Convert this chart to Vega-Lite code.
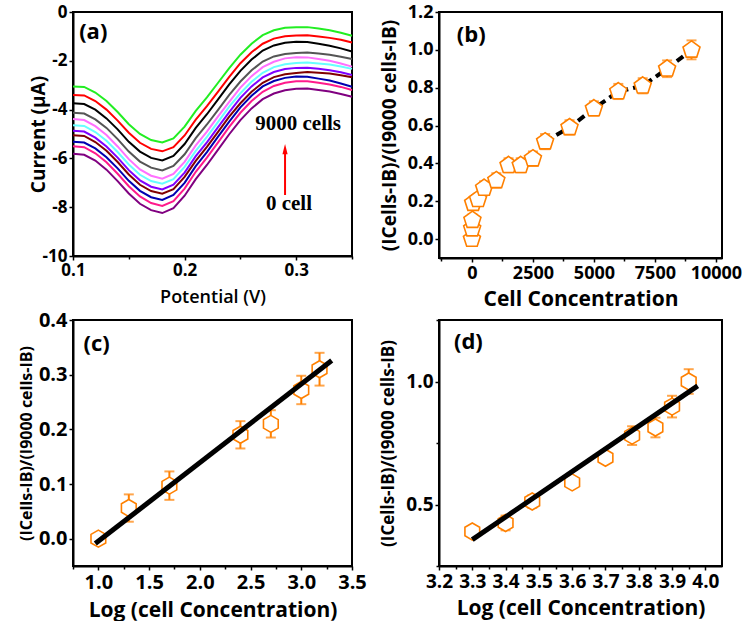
{
"$schema": "https://vega.github.io/schema/vega-lite/v6.json",
"background": "white",
"padding": {"left": 17, "top": 2, "right": 0, "bottom": 0},
"bounds": "flush",
"columns": 2,
"spacing": {"row": 62, "column": 87},
"config": {
  "font": "Open Sans",
  "view": {"stroke": "black", "strokeWidth": 2},
  "axis": {"grid": false, "domainColor": "black", "domainWidth": 2, "tickColor": "black", "tickWidth": 1.5, "labelFont": "Open Sans", "labelFontWeight": "bold", "labelColor": "black", "titleFont": "Open Sans", "titleFontWeight": "bold", "titleColor": "black", "labelPadding": 2, "labelFlush": false, "labelOverlap": false, "labelBound": false}
},
"datasets": {
"dpv": [
{"s":"c01","x":0.1,"y":-3.05},{"s":"c01","x":0.11,"y":-3.07},{"s":"c01","x":0.12,"y":-3.3},{"s":"c01","x":0.13,"y":-3.65},{"s":"c01","x":0.14,"y":-4.1},{"s":"c01","x":0.15,"y":-4.6},{"s":"c01","x":0.16,"y":-5.0},{"s":"c01","x":0.17,"y":-5.25},{"s":"c01","x":0.18,"y":-5.35},{"s":"c01","x":0.19,"y":-5.18},{"s":"c01","x":0.2,"y":-4.7},{"s":"c01","x":0.21,"y":-4.05},{"s":"c01","x":0.22,"y":-3.5},{"s":"c01","x":0.23,"y":-2.9},{"s":"c01","x":0.24,"y":-2.3},{"s":"c01","x":0.25,"y":-1.75},{"s":"c01","x":0.26,"y":-1.3},{"s":"c01","x":0.27,"y":-0.95},{"s":"c01","x":0.28,"y":-0.75},{"s":"c01","x":0.29,"y":-0.65},{"s":"c01","x":0.3,"y":-0.62},{"s":"c01","x":0.31,"y":-0.62},{"s":"c01","x":0.32,"y":-0.68},{"s":"c01","x":0.33,"y":-0.75},{"s":"c01","x":0.34,"y":-0.85},{"s":"c01","x":0.35,"y":-0.97},
{"s":"c02","x":0.1,"y":-3.4},{"s":"c02","x":0.11,"y":-3.42},{"s":"c02","x":0.12,"y":-3.65},{"s":"c02","x":0.13,"y":-4.0},{"s":"c02","x":0.14,"y":-4.45},{"s":"c02","x":0.15,"y":-4.95},{"s":"c02","x":0.16,"y":-5.36},{"s":"c02","x":0.17,"y":-5.61},{"s":"c02","x":0.18,"y":-5.71},{"s":"c02","x":0.19,"y":-5.54},{"s":"c02","x":0.2,"y":-5.06},{"s":"c02","x":0.21,"y":-4.41},{"s":"c02","x":0.22,"y":-3.86},{"s":"c02","x":0.23,"y":-3.26},{"s":"c02","x":0.24,"y":-2.66},{"s":"c02","x":0.25,"y":-2.1},{"s":"c02","x":0.26,"y":-1.65},{"s":"c02","x":0.27,"y":-1.3},{"s":"c02","x":0.28,"y":-1.09},{"s":"c02","x":0.29,"y":-0.99},{"s":"c02","x":0.3,"y":-0.96},{"s":"c02","x":0.31,"y":-0.95},{"s":"c02","x":0.32,"y":-1.0},{"s":"c02","x":0.33,"y":-1.06},{"s":"c02","x":0.34,"y":-1.14},{"s":"c02","x":0.35,"y":-1.25},
{"s":"c03","x":0.1,"y":-3.74},{"s":"c03","x":0.11,"y":-3.77},{"s":"c03","x":0.12,"y":-4.0},{"s":"c03","x":0.13,"y":-4.36},{"s":"c03","x":0.14,"y":-4.81},{"s":"c03","x":0.15,"y":-5.32},{"s":"c03","x":0.16,"y":-5.72},{"s":"c03","x":0.17,"y":-5.98},{"s":"c03","x":0.18,"y":-6.08},{"s":"c03","x":0.19,"y":-5.9},{"s":"c03","x":0.2,"y":-5.41},{"s":"c03","x":0.21,"y":-4.75},{"s":"c03","x":0.22,"y":-4.19},{"s":"c03","x":0.23,"y":-3.58},{"s":"c03","x":0.24,"y":-2.97},{"s":"c03","x":0.25,"y":-2.41},{"s":"c03","x":0.26,"y":-1.95},{"s":"c03","x":0.27,"y":-1.58},{"s":"c03","x":0.28,"y":-1.37},{"s":"c03","x":0.29,"y":-1.26},{"s":"c03","x":0.3,"y":-1.22},{"s":"c03","x":0.31,"y":-1.23},{"s":"c03","x":0.32,"y":-1.3},{"s":"c03","x":0.33,"y":-1.38},{"s":"c03","x":0.34,"y":-1.49},{"s":"c03","x":0.35,"y":-1.62},
{"s":"c04","x":0.1,"y":-4.13},{"s":"c04","x":0.11,"y":-4.16},{"s":"c04","x":0.12,"y":-4.4},{"s":"c04","x":0.13,"y":-4.75},{"s":"c04","x":0.14,"y":-5.21},{"s":"c04","x":0.15,"y":-5.72},{"s":"c04","x":0.16,"y":-6.13},{"s":"c04","x":0.17,"y":-6.38},{"s":"c04","x":0.18,"y":-6.49},{"s":"c04","x":0.19,"y":-6.31},{"s":"c04","x":0.2,"y":-5.83},{"s":"c04","x":0.21,"y":-5.17},{"s":"c04","x":0.22,"y":-4.61},{"s":"c04","x":0.23,"y":-4.01},{"s":"c04","x":0.24,"y":-3.4},{"s":"c04","x":0.25,"y":-2.85},{"s":"c04","x":0.26,"y":-2.39},{"s":"c04","x":0.27,"y":-2.03},{"s":"c04","x":0.28,"y":-1.82},{"s":"c04","x":0.29,"y":-1.72},{"s":"c04","x":0.3,"y":-1.68},{"s":"c04","x":0.31,"y":-1.66},{"s":"c04","x":0.32,"y":-1.7},{"s":"c04","x":0.33,"y":-1.75},{"s":"c04","x":0.34,"y":-1.83},{"s":"c04","x":0.35,"y":-1.93},
{"s":"c05","x":0.1,"y":-4.39},{"s":"c05","x":0.11,"y":-4.43},{"s":"c05","x":0.12,"y":-4.68},{"s":"c05","x":0.13,"y":-5.04},{"s":"c05","x":0.14,"y":-5.51},{"s":"c05","x":0.15,"y":-6.03},{"s":"c05","x":0.16,"y":-6.45},{"s":"c05","x":0.17,"y":-6.71},{"s":"c05","x":0.18,"y":-6.83},{"s":"c05","x":0.19,"y":-6.64},{"s":"c05","x":0.2,"y":-6.14},{"s":"c05","x":0.21,"y":-5.47},{"s":"c05","x":0.22,"y":-4.9},{"s":"c05","x":0.23,"y":-4.28},{"s":"c05","x":0.24,"y":-3.68},{"s":"c05","x":0.25,"y":-3.1},{"s":"c05","x":0.26,"y":-2.63},{"s":"c05","x":0.27,"y":-2.26},{"s":"c05","x":0.28,"y":-2.04},{"s":"c05","x":0.29,"y":-1.9},{"s":"c05","x":0.3,"y":-1.85},{"s":"c05","x":0.31,"y":-1.86},{"s":"c05","x":0.32,"y":-1.93},{"s":"c05","x":0.33,"y":-2.0},{"s":"c05","x":0.34,"y":-2.11},{"s":"c05","x":0.35,"y":-2.24},
{"s":"c06","x":0.1,"y":-4.64},{"s":"c06","x":0.11,"y":-4.67},{"s":"c06","x":0.12,"y":-4.92},{"s":"c06","x":0.13,"y":-5.28},{"s":"c06","x":0.14,"y":-5.74},{"s":"c06","x":0.15,"y":-6.25},{"s":"c06","x":0.16,"y":-6.67},{"s":"c06","x":0.17,"y":-6.93},{"s":"c06","x":0.18,"y":-7.04},{"s":"c06","x":0.19,"y":-6.85},{"s":"c06","x":0.2,"y":-6.35},{"s":"c06","x":0.21,"y":-5.69},{"s":"c06","x":0.22,"y":-5.12},{"s":"c06","x":0.23,"y":-4.5},{"s":"c06","x":0.24,"y":-3.88},{"s":"c06","x":0.25,"y":-3.33},{"s":"c06","x":0.26,"y":-2.86},{"s":"c06","x":0.27,"y":-2.49},{"s":"c06","x":0.28,"y":-2.26},{"s":"c06","x":0.29,"y":-2.14},{"s":"c06","x":0.3,"y":-2.09},{"s":"c06","x":0.31,"y":-2.07},{"s":"c06","x":0.32,"y":-2.11},{"s":"c06","x":0.33,"y":-2.15},{"s":"c06","x":0.34,"y":-2.23},{"s":"c06","x":0.35,"y":-2.33},
{"s":"c07","x":0.1,"y":-4.87},{"s":"c07","x":0.11,"y":-4.9},{"s":"c07","x":0.12,"y":-5.15},{"s":"c07","x":0.13,"y":-5.51},{"s":"c07","x":0.14,"y":-5.97},{"s":"c07","x":0.15,"y":-6.48},{"s":"c07","x":0.16,"y":-6.9},{"s":"c07","x":0.17,"y":-7.16},{"s":"c07","x":0.18,"y":-7.27},{"s":"c07","x":0.19,"y":-7.08},{"s":"c07","x":0.2,"y":-6.58},{"s":"c07","x":0.21,"y":-5.91},{"s":"c07","x":0.22,"y":-5.34},{"s":"c07","x":0.23,"y":-4.72},{"s":"c07","x":0.24,"y":-4.1},{"s":"c07","x":0.25,"y":-3.52},{"s":"c07","x":0.26,"y":-3.05},{"s":"c07","x":0.27,"y":-2.68},{"s":"c07","x":0.28,"y":-2.46},{"s":"c07","x":0.29,"y":-2.34},{"s":"c07","x":0.3,"y":-2.29},{"s":"c07","x":0.31,"y":-2.28},{"s":"c07","x":0.32,"y":-2.33},{"s":"c07","x":0.33,"y":-2.39},{"s":"c07","x":0.34,"y":-2.47},{"s":"c07","x":0.35,"y":-2.58},
{"s":"c08","x":0.1,"y":-5.05},{"s":"c08","x":0.11,"y":-5.08},{"s":"c08","x":0.12,"y":-5.33},{"s":"c08","x":0.13,"y":-5.69},{"s":"c08","x":0.14,"y":-6.15},{"s":"c08","x":0.15,"y":-6.66},{"s":"c08","x":0.16,"y":-7.08},{"s":"c08","x":0.17,"y":-7.34},{"s":"c08","x":0.18,"y":-7.45},{"s":"c08","x":0.19,"y":-7.26},{"s":"c08","x":0.2,"y":-6.76},{"s":"c08","x":0.21,"y":-6.1},{"s":"c08","x":0.22,"y":-5.53},{"s":"c08","x":0.23,"y":-4.91},{"s":"c08","x":0.24,"y":-4.29},{"s":"c08","x":0.25,"y":-3.74},{"s":"c08","x":0.26,"y":-3.27},{"s":"c08","x":0.27,"y":-2.9},{"s":"c08","x":0.28,"y":-2.67},{"s":"c08","x":0.29,"y":-2.55},{"s":"c08","x":0.3,"y":-2.5},{"s":"c08","x":0.31,"y":-2.46},{"s":"c08","x":0.32,"y":-2.49},{"s":"c08","x":0.33,"y":-2.52},{"s":"c08","x":0.34,"y":-2.59},{"s":"c08","x":0.35,"y":-2.67},
{"s":"c09","x":0.1,"y":-5.32},{"s":"c09","x":0.11,"y":-5.35},{"s":"c09","x":0.12,"y":-5.59},{"s":"c09","x":0.13,"y":-5.95},{"s":"c09","x":0.14,"y":-6.41},{"s":"c09","x":0.15,"y":-6.92},{"s":"c09","x":0.16,"y":-7.33},{"s":"c09","x":0.17,"y":-7.59},{"s":"c09","x":0.18,"y":-7.7},{"s":"c09","x":0.19,"y":-7.5},{"s":"c09","x":0.2,"y":-7.0},{"s":"c09","x":0.21,"y":-6.32},{"s":"c09","x":0.22,"y":-5.74},{"s":"c09","x":0.23,"y":-5.11},{"s":"c09","x":0.24,"y":-4.49},{"s":"c09","x":0.25,"y":-3.91},{"s":"c09","x":0.26,"y":-3.43},{"s":"c09","x":0.27,"y":-3.05},{"s":"c09","x":0.28,"y":-2.83},{"s":"c09","x":0.29,"y":-2.7},{"s":"c09","x":0.3,"y":-2.64},{"s":"c09","x":0.31,"y":-2.65},{"s":"c09","x":0.32,"y":-2.73},{"s":"c09","x":0.33,"y":-2.81},{"s":"c09","x":0.34,"y":-2.93},{"s":"c09","x":0.35,"y":-3.06},
{"s":"c10","x":0.1,"y":-5.5},{"s":"c10","x":0.11,"y":-5.54},{"s":"c10","x":0.12,"y":-5.79},{"s":"c10","x":0.13,"y":-6.16},{"s":"c10","x":0.14,"y":-6.63},{"s":"c10","x":0.15,"y":-7.14},{"s":"c10","x":0.16,"y":-7.56},{"s":"c10","x":0.17,"y":-7.83},{"s":"c10","x":0.18,"y":-7.95},{"s":"c10","x":0.19,"y":-7.75},{"s":"c10","x":0.2,"y":-7.24},{"s":"c10","x":0.21,"y":-6.55},{"s":"c10","x":0.22,"y":-5.97},{"s":"c10","x":0.23,"y":-5.34},{"s":"c10","x":0.24,"y":-4.71},{"s":"c10","x":0.25,"y":-4.13},{"s":"c10","x":0.26,"y":-3.65},{"s":"c10","x":0.27,"y":-3.27},{"s":"c10","x":0.28,"y":-3.03},{"s":"c10","x":0.29,"y":-2.9},{"s":"c10","x":0.3,"y":-2.84},{"s":"c10","x":0.31,"y":-2.84},{"s":"c10","x":0.32,"y":-2.9},{"s":"c10","x":0.33,"y":-2.97},{"s":"c10","x":0.34,"y":-3.07},{"s":"c10","x":0.35,"y":-3.2},
{"s":"c11","x":0.1,"y":-5.81},{"s":"c11","x":0.11,"y":-5.85},{"s":"c11","x":0.12,"y":-6.09},{"s":"c11","x":0.13,"y":-6.46},{"s":"c11","x":0.14,"y":-6.93},{"s":"c11","x":0.15,"y":-7.44},{"s":"c11","x":0.16,"y":-7.86},{"s":"c11","x":0.17,"y":-8.12},{"s":"c11","x":0.18,"y":-8.24},{"s":"c11","x":0.19,"y":-8.04},{"s":"c11","x":0.2,"y":-7.53},{"s":"c11","x":0.21,"y":-6.85},{"s":"c11","x":0.22,"y":-6.27},{"s":"c11","x":0.23,"y":-5.64},{"s":"c11","x":0.24,"y":-5.01},{"s":"c11","x":0.25,"y":-4.43},{"s":"c11","x":0.26,"y":-3.95},{"s":"c11","x":0.27,"y":-3.57},{"s":"c11","x":0.28,"y":-3.34},{"s":"c11","x":0.29,"y":-3.21},{"s":"c11","x":0.3,"y":-3.15},{"s":"c11","x":0.31,"y":-3.14},{"s":"c11","x":0.32,"y":-3.2},{"s":"c11","x":0.33,"y":-3.26},{"s":"c11","x":0.34,"y":-3.36},{"s":"c11","x":0.35,"y":-3.47}
],
"pb": [
{"c":0,"r":0.0,"lo":-0.01,"hi":0.01},{"c":10,"r":0.055,"lo":0.03,"hi":0.08},{"c":20,"r":0.1,"lo":0.07,"hi":0.13},{"c":50,"r":0.19,"lo":0.16,"hi":0.22},{"c":250,"r":0.21,"lo":0.18,"hi":0.24},{"c":500,"r":0.27,"lo":0.235,"hi":0.305},{"c":1000,"r":0.31,"lo":0.272,"hi":0.348},{"c":1500,"r":0.39,"lo":0.353,"hi":0.427},{"c":2000,"r":0.39,"lo":0.353,"hi":0.427},{"c":2500,"r":0.425,"lo":0.387,"hi":0.463},{"c":3000,"r":0.515,"lo":0.475,"hi":0.555},{"c":4000,"r":0.59,"lo":0.552,"hi":0.628},{"c":5000,"r":0.69,"lo":0.652,"hi":0.728},{"c":6000,"r":0.78,"lo":0.74,"hi":0.82},{"c":7000,"r":0.81,"lo":0.77,"hi":0.85},{"c":8000,"r":0.9,"lo":0.856,"hi":0.944},{"c":9000,"r":1.0,"lo":0.95,"hi":1.05}
],
"pc": [
{"l":1.0,"r":0.0,"lo":-0.004,"hi":0.004},{"l":1.3,"r":0.056,"lo":0.031,"hi":0.081},{"l":1.7,"r":0.097,"lo":0.071,"hi":0.123},{"l":2.4,"r":0.19,"lo":0.165,"hi":0.215},{"l":2.7,"r":0.21,"lo":0.185,"hi":0.235},{"l":3.0,"r":0.272,"lo":0.246,"hi":0.298},{"l":3.18,"r":0.31,"lo":0.28,"hi":0.34}
],
"fc": [{"l":0.97,"r":-0.009},{"l":3.3,"r":0.326}],
"pd": [
{"l":3.3,"r":0.39,"lo":0.37,"hi":0.41},{"l":3.4,"r":0.425,"lo":0.395,"hi":0.455},{"l":3.48,"r":0.512,"lo":0.487,"hi":0.537},{"l":3.6,"r":0.59,"lo":0.575,"hi":0.605},{"l":3.7,"r":0.69,"lo":0.67,"hi":0.71},{"l":3.78,"r":0.78,"lo":0.742,"hi":0.818},{"l":3.85,"r":0.813,"lo":0.773,"hi":0.853},{"l":3.9,"r":0.898,"lo":0.854,"hi":0.942},{"l":3.95,"r":1.0,"lo":0.95,"hi":1.05}
],
"fd": [{"l":3.3,"r":0.357},{"l":3.977,"r":0.982}]
},
"concat": [
{
 "width": 279, "height": 244,
 "layer": [
  {"data": {"name": "dpv"},
   "mark": {"type": "line", "strokeWidth": 2},
   "encoding": {
    "x": {"field": "x", "type": "quantitative", "scale": {"domain": [0.1, 0.35], "nice": false, "zero": false},
      "axis": {"title": "Potential (V)", "titleFontSize": 18, "titleFontWeight": 600, "titlePadding": 10, "labelFontSize": 17,
        "values": [0.1, 0.15, 0.2, 0.25, 0.3, 0.35],
        "labelExpr": "round(datum.value*100) % 10 == 0 ? format(datum.value, '.1f') : ''",
        "tickSize": {"condition": {"test": "round(datum.value*100) % 10 == 0", "value": 4}, "value": 3}}},
    "y": {"field": "y", "type": "quantitative", "scale": {"domain": [-10, 0], "nice": false, "zero": false},
      "axis": {"title": "Current (µA)", "titleFontSize": 19, "titlePadding": -6, "labelFontSize": 17,
        "values": [-10, -9, -8, -7, -6, -5, -4, -3, -2, -1, 0],
        "labelExpr": "datum.value % 2 == 0 ? '' + datum.value : ''",
        "tickSize": {"condition": {"test": "datum.value % 2 == 0", "value": 4}, "value": 3}}},
    "color": {"field": "s", "type": "nominal", "legend": null,
      "scale": {"domain": ["c01","c02","c03","c04","c05","c06","c07","c08","c09","c10","c11"],
        "range": ["#22ee22","#ff0000","#000000","#555555","#ff70ff","#66ffff","#7f00ff","#800000","#0000b0","#ff1a8c","#800080"]}}
   }},
  {"data": {"values": [{"x": 0.1055, "y": -0.8, "t": "(a)"}]},
   "mark": {"type": "text", "align": "left", "baseline": "middle", "font": "Open Sans", "fontWeight": "bold", "fontSize": 22, "color": "black"},
   "encoding": {"x": {"field": "x", "type": "quantitative"}, "y": {"field": "y", "type": "quantitative"}, "text": {"field": "t"}}},
  {"data": {"values": [{"x": 0.3017, "y": -4.57, "t": "9000 cells"}, {"x": 0.2935, "y": -7.86, "t": "0 cell"}]},
   "mark": {"type": "text", "align": "center", "baseline": "middle", "font": "Liberation Serif", "fontWeight": "bold", "fontSize": 21, "color": "black"},
   "encoding": {"x": {"field": "x", "type": "quantitative"}, "y": {"field": "y", "type": "quantitative"}, "text": {"field": "t"}}},
  {"data": {"values": [{"x": 0.29, "y": -7.5, "y2": -5.75}]},
   "mark": {"type": "rule", "color": "#ff0000", "strokeWidth": 2},
   "encoding": {"x": {"field": "x", "type": "quantitative"}, "y": {"field": "y", "type": "quantitative"}, "y2": {"field": "y2"}}},
  {"data": {"values": [{"x": 0.29, "y": -5.62}]},
   "mark": {"type": "point", "shape": "M0,-1L0.5,1L-0.5,1Z", "size": 110, "filled": true, "color": "#ff0000", "opacity": 1},
   "encoding": {"x": {"field": "x", "type": "quantitative"}, "y": {"field": "y", "type": "quantitative"}}}
 ]
},
{
 "width": 283, "height": 246,
 "data": {"name": "pb"},
 "encoding": {
  "x": {"field": "c", "type": "quantitative", "scale": {"domain": [-1350, 10250], "nice": false, "zero": false},
    "axis": {"title": "Cell Concentration", "titleFontSize": 21, "titlePadding": 6, "labelFontSize": 18,
      "values": [-1250, 0, 1250, 2500, 3750, 5000, 6250, 7500, 8750, 10000],
      "labelExpr": "datum.value % 2500 == 0 ? '' + datum.value : ''",
      "tickSize": {"condition": {"test": "datum.value % 2500 == 0", "value": 4}, "value": 3}}}
 },
 "layer": [
  {"mark": {"type": "errorbar", "color": "#ff8000", "thickness": 2, "ticks": {"size": 10}},
   "encoding": {"y": {"field": "lo", "type": "quantitative", "scale": {"domain": [-0.1, 1.2], "nice": false, "zero": false},
     "axis": {"title": "(ICells-IB)/(I9000 cells-IB)", "titleFontSize": 19, "titlePadding": 8, "labelFontSize": 18, "format": ".1f",
       "values": [0.1, 0.2, 0.3, 0.4, 0.5, 0.6, 0.7, 0.8, 0.9, 1.0, 1.1, 1.2, 0.0],
       "labelExpr": "indexof(['0.0','0.2','0.4','0.6','0.8','1.0','1.2'], datum.label) >= 0 ? datum.label : ''",
       "tickSize": 4}},
    "y2": {"field": "hi"}}},
  {"transform": [{"filter": "datum.c >= 3000"}],
   "mark": {"type": "line", "color": "black", "strokeWidth": 4, "strokeDash": [8, 5]},
   "encoding": {"y": {"field": "r", "type": "quantitative"}}},
  {"mark": {"type": "point", "shape": "M0,-1L0.951,-0.309L0.588,0.809L-0.588,0.809L-0.951,-0.309Z", "size": 320, "filled": true, "fill": "white", "stroke": "#ff8000", "strokeWidth": 1.6, "opacity": 1},
   "encoding": {"y": {"field": "r", "type": "quantitative"}}},
  {"data": {"values": [{"c": -620, "r": 1.08, "t": "(b)"}]},
   "mark": {"type": "text", "align": "left", "baseline": "middle", "font": "Open Sans", "fontWeight": "bold", "fontSize": 22, "color": "black"},
   "encoding": {"y": {"field": "r", "type": "quantitative"}, "text": {"field": "t"}}}
 ]
},
{
 "width": 279, "height": 246,
 "data": {"name": "pc"},
 "encoding": {
  "x": {"field": "l", "type": "quantitative", "scale": {"domain": [0.75, 3.5], "nice": false, "zero": false},
    "axis": {"title": "Log (cell Concentration)", "titleFontSize": 21, "titlePadding": 7, "labelFontSize": 20,
      "values": [0.75, 1.0, 1.25, 1.5, 1.75, 2.0, 2.25, 2.5, 2.75, 3.0, 3.25, 3.5],
      "labelExpr": "round(datum.value*100) % 50 == 0 ? format(datum.value, '.1f') : ''",
      "tickSize": {"condition": {"test": "round(datum.value*100) % 50 == 0", "value": 4}, "value": 3}}}
 },
 "layer": [
  {"mark": {"type": "errorbar", "color": "#ff8000", "thickness": 2, "ticks": {"size": 10}},
   "encoding": {"y": {"field": "lo", "type": "quantitative", "scale": {"domain": [-0.05, 0.4], "nice": false, "zero": false},
     "axis": {"title": "(ICells-IB)/(I9000 cells-IB)", "titleFontSize": 16, "titlePadding": 4, "labelFontSize": 20, "format": ".1f",
       "values": [0.05, 0.1, 0.15, 0.2, 0.25, 0.3, 0.35, 0.4, 0.0],
       "labelExpr": "round(datum.value*100) % 10 == 0 ? datum.label : ''",
       "tickSize": 4}},
    "y2": {"field": "hi"}}},
  {"mark": {"type": "point", "shape": "M0,-1L0.866,-0.5L0.866,0.5L0,1L-0.866,0.5L-0.866,-0.5Z", "size": 290, "filled": true, "fill": "white", "stroke": "#ff8000", "strokeWidth": 1.6, "opacity": 1},
   "encoding": {"y": {"field": "r", "type": "quantitative"}}},
  {"data": {"name": "fc"},
   "mark": {"type": "line", "color": "black", "strokeWidth": 5},
   "encoding": {"y": {"field": "r", "type": "quantitative"}}},
  {"data": {"values": [{"l": 0.853, "r": 0.356, "t": "(c)"}]},
   "mark": {"type": "text", "align": "left", "baseline": "middle", "font": "Open Sans", "fontWeight": "bold", "fontSize": 22, "color": "black"},
   "encoding": {"y": {"field": "r", "type": "quantitative"}, "text": {"field": "t"}}}
 ]
},
{
 "width": 283, "height": 246,
 "data": {"name": "pd"},
 "encoding": {
  "x": {"field": "l", "type": "quantitative", "scale": {"domain": [3.2, 4.05], "nice": false, "zero": false},
    "axis": {"title": "Log (cell Concentration)", "titleFontSize": 21, "titlePadding": 6, "labelFontSize": 19,
      "values": [3.2, 3.25, 3.3, 3.35, 3.4, 3.45, 3.5, 3.55, 3.6, 3.65, 3.7, 3.75, 3.8, 3.85, 3.9, 3.95, 4.0],
      "labelExpr": "round(datum.value*100) % 10 == 0 ? format(datum.value, '.1f') : ''",
      "tickSize": {"condition": {"test": "round(datum.value*100) % 10 == 0", "value": 4}, "value": 3}}}
 },
 "layer": [
  {"mark": {"type": "errorbar", "color": "#ff8000", "thickness": 2, "ticks": {"size": 10}},
   "encoding": {"y": {"field": "lo", "type": "quantitative", "scale": {"domain": [0.25, 1.25], "nice": false, "zero": false},
     "axis": {"title": "(ICells-IB)/(I9000 cells-IB)", "titleFontSize": 17, "titlePadding": 8, "labelFontSize": 19,
       "values": [0.25, 0.5, 0.75, 1.0, 1.25],
       "labelExpr": "round(datum.value*100) % 50 == 0 ? format(datum.value, '.1f') : ''",
       "tickSize": {"condition": {"test": "round(datum.value*100) % 50 == 0", "value": 4}, "value": 3}}},
    "y2": {"field": "hi"}}},
  {"mark": {"type": "point", "shape": "M0,-1L0.866,-0.5L0.866,0.5L0,1L-0.866,0.5L-0.866,-0.5Z", "size": 290, "filled": true, "fill": "white", "stroke": "#ff8000", "strokeWidth": 1.6, "opacity": 1},
   "encoding": {"y": {"field": "r", "type": "quantitative"}}},
  {"data": {"name": "fd"},
   "mark": {"type": "line", "color": "black", "strokeWidth": 5},
   "encoding": {"y": {"field": "r", "type": "quantitative"}}},
  {"data": {"values": [{"l": 3.245, "r": 1.16, "t": "(d)"}]},
   "mark": {"type": "text", "align": "left", "baseline": "middle", "font": "Open Sans", "fontWeight": "bold", "fontSize": 22, "color": "black"},
   "encoding": {"y": {"field": "r", "type": "quantitative"}, "text": {"field": "t"}}}
 ]
}
]
}
